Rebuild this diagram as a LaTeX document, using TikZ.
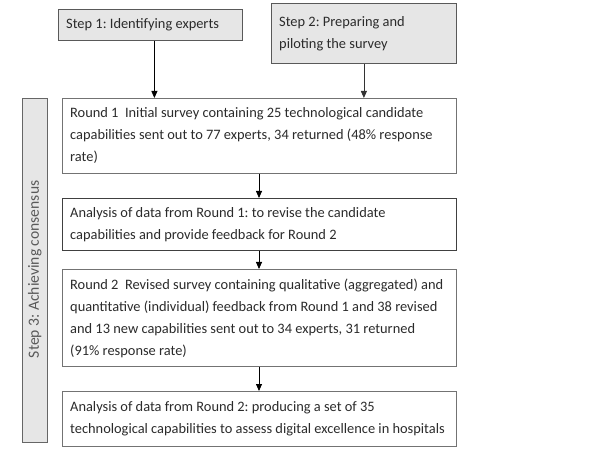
\documentclass[tikz,border=0pt]{standalone}
\usepackage{fontspec}
\setmainfont{Carlito}
\frenchspacing
\usetikzlibrary{arrows.meta}
\definecolor{boxfill}{HTML}{E6E6E6}
\definecolor{txt}{HTML}{2B2B2B}
\tikzset{
  stepbox/.style={draw=black!65, fill=boxfill, line width=0.8pt, anchor=north west, inner sep=0pt},
  flowbox/.style={draw=black!55, fill=white, line width=0.8pt, anchor=north west, inner sep=0pt},
  boxtext/.style={anchor=west, inner xsep=8pt, inner ysep=0pt, align=left, text=txt, font=\fontsize{14.4}{22}\selectfont},
  arr/.style={-{Triangle[width=6pt,length=7pt]}, line width=0.8pt, black}
}
\begin{document}
\begin{tikzpicture}[x=1pt,y=-1pt]
\useasboundingbox (0,0) rectangle (600,449);
\node[stepbox, minimum width=184pt, minimum height=31pt] (s1) at (58,9) {};
\node[boxtext] (s1t) at (s1.west) {Step 1: Identifying experts};
\node[stepbox, minimum width=185pt, minimum height=60pt] (s2) at (271,3) {};
\node[boxtext] (s2t) at (s2.west) {Step 2: Preparing and\\piloting the survey};
\node[draw=black!60, fill=boxfill, line width=0.8pt, anchor=north west, minimum width=25pt, minimum height=344pt, inner sep=0pt] (side) at (22,98) {};
\node[rotate=90, text=black!65, font=\fontsize{15.6}{18}\selectfont] (sidetxt) at ([yshift=1pt]side.center) {Step 3: Achieving consensus};
\node[flowbox, minimum width=394pt, minimum height=75pt] (r1) at (62,98) {};
\node[boxtext] (r1t) at (r1.west) {Round 1\ \ Initial survey containing 25 technological candidate\\capabilities sent out to 77 experts, 34 returned (48\% response\\rate)};
\node[flowbox, draw=black!75, minimum width=394pt, minimum height=52pt] (a1) at (62,198) {};
\node[boxtext] (a1t) at (a1.west) {Analysis of data from Round 1: to revise the candidate\\capabilities and provide feedback for Round 2};
\node[flowbox, minimum width=394pt, minimum height=97pt] (r2) at (62,269) {};
\node[boxtext] (r2t) at (r2.west) {Round 2\ \ Revised survey containing qualitative (aggregated) and\\quantitative (individual) feedback from Round 1 and 38 revised\\and 13 new capabilities sent out to 34 experts, 31 returned\\(91\% response rate)};
\node[flowbox, minimum width=394pt, minimum height=55pt] (a2) at (62,391) {};
\node[boxtext] (a2t) at (a2.west) {Analysis of data from Round 2: producing a set of 35\\technological capabilities to assess digital excellence in hospitals};
\coordinate (s1out) at ([xshift=4pt]s1.south);
\draw[arr] (s1out) -- (s1out |- r1.north);
\draw[arr, black!80] (s2.south) -- (s2.south |- r1.north);
\coordinate (mid) at (259,0);
\draw[arr] (mid |- r1.south) -- (mid |- a1.north);
\draw[arr] (mid |- a1.south) -- (mid |- r2.north);
\draw[arr] (mid |- r2.south) -- (mid |- a2.north);
\end{tikzpicture}
\end{document}
